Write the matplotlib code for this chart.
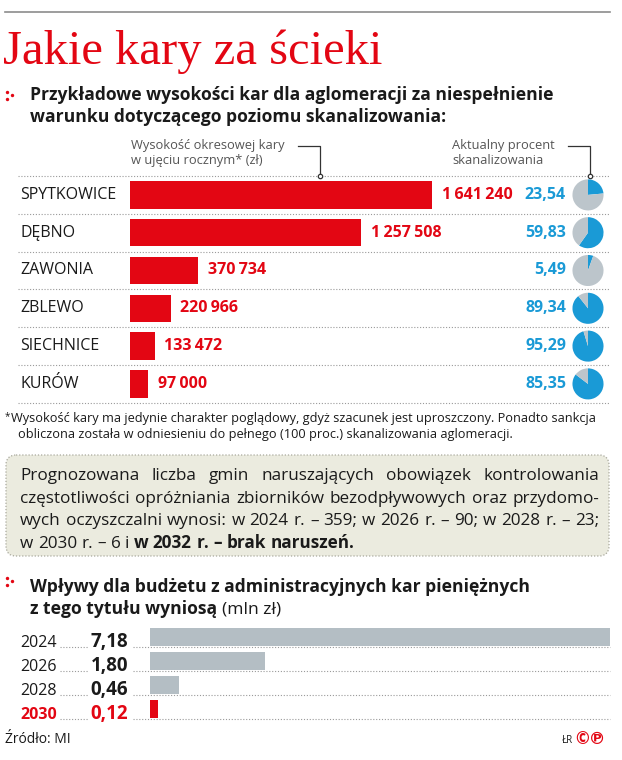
import numpy as np
import matplotlib
matplotlib.use("Agg")
import matplotlib.pyplot as plt
from matplotlib.patches import FancyBboxPatch

# data
cities = ["SPYTKOWICE", "DĘBNO", "ZAWONIA", "ZBLEWO", "SIECHNICE", "KURÓW"]
kary = [1641240, 1257508, 370734, 220966, 133472, 97000]
procent = [23.54, 59.83, 5.49, 89.34, 95.29, 85.35]

lata = ["2024", "2026", "2028", "2030"]
wplywy = [7.18, 1.80, 0.46, 0.12]

RED = "#e30613"
BLUE = "#1a9ad6"
GREY = "#b4bec4"
PIEGREY = "#bcc5cb"
DARK = "#1a1a1a"
SANS = ["Open Sans", "DejaVu Sans"]
W, H = 622, 760

plt.rcParams["font.family"] = SANS
fig = plt.figure(figsize=(W / 100, H / 100), dpi=100)
cv = fig.add_axes([0, 0, 1, 1])
cv.set_xlim(0, W)
cv.set_ylim(H, 0)
cv.axis("off")
renderer = fig.canvas.get_renderer()


def fax(x0, y0, x1, y1):
    # axes from pixel box (top-left origin)
    return fig.add_axes([x0 / W, 1 - y1 / H, (x1 - x0) / W, (y1 - y0) / H])


def dots(y, x0=18, x1=610):
    cv.plot([x0, x1], [y, y], color="#9a9a9a", lw=0.8, ls=(0, (1, 1.6)))


def marker(x, y):
    cv.scatter([x, x, x + 5], [y - 3.5, y + 3.5, y], s=6, color=RED, zorder=5, lw=0)


# header
cv.plot([5, 610], [12, 12], color="#8c8c8c", lw=1.2)
cv.text(3, 64, "Jakie kary za ścieki", color=RED, fontsize=35,
        family=["Liberation Serif", "DejaVu Serif"], va="baseline")

HS = 12.6
marker(7, 95)
cv.text(30, 100, "Przykładowe wysokości kar dla aglomeracji za niespełnienie",
        fontsize=HS, weight="bold", color=DARK, va="baseline")
cv.text(30, 122, "warunku dotyczącego poziomu skanalizowania:",
        fontsize=HS, weight="bold", color=DARK, va="baseline")

cv.text(131, 149, "Wysokość okresowej kary", fontsize=9.3, color="#555555", va="baseline")
cv.text(131, 164, "w ujęciu rocznym* (zł)", fontsize=9.3, color="#555555", va="baseline")
cv.plot([298, 320, 320], [146, 146, 176], color="#333333", lw=0.9)
cv.scatter([320], [176], s=10, facecolor="white", edgecolor="#333333", lw=0.9, zorder=6)

cv.text(452, 149, "Aktualny procent", fontsize=9.3, color="#555555", va="baseline")
cv.text(452, 164, "skanalizowania", fontsize=9.3, color="#555555", va="baseline")
cv.plot([568, 590, 590], [146, 146, 176], color="#333333", lw=0.9)
cv.scatter([590], [176], s=10, facecolor="white", edgecolor="#333333", lw=0.9, zorder=6)

# top bar chart
row_h = 37.8
top = 176
n = len(cities)
for i in range(n + 1):
    dots(top + i * row_h)

bx = fax(130, top, 432, top + n * row_h)
y = np.arange(n)
bx.barh(y, kary, height=0.72, color=RED)
bx.set_xlim(0, max(kary))
bx.set_ylim(n - 0.5, -0.5)
bx.axis("off")
for i, (c, k, p) in enumerate(zip(cities, kary, procent)):
    bx.annotate(f"{k:,}".replace(",", "\u2009"), (k, i), xytext=(7, 0),
                textcoords="offset points", va="center", ha="left",
                color=RED, fontsize=11.5, weight="bold", annotation_clip=False)
    yc = top + (i + 0.5) * row_h
    cv.text(20, yc, c, fontsize=11.5, color=DARK, va="center")
    cv.text(566, yc, f"{p:.2f}".replace(".", ","), fontsize=11.5, weight="bold",
            color=BLUE, va="center", ha="right")
    pa = fax(572, yc - 16, 604, yc + 16)
    pa.pie([p, 100 - p], colors=[BLUE, PIEGREY], startangle=90, counterclock=False,
           radius=1.0, wedgeprops=dict(linewidth=0))
    pa.set_xlim(-1.03, 1.03)
    pa.set_ylim(-1.03, 1.03)
    pa.set_aspect("equal")

# footnote
cv.text(5, 419, "*", fontsize=7, color=DARK, va="baseline")
cv.text(11, 422, "Wysokość kary ma jedynie charakter poglądowy, gdyż szacunek jest uproszczony. Ponadto sankcja",
        fontsize=9.2, color=DARK, va="baseline")
cv.text(18, 438, "obliczona została w odniesieniu do pełnego (100 proc.) skanalizowania aglomeracji.",
        fontsize=9.2, color=DARK, va="baseline")

# box
box = FancyBboxPatch((6, 455), 603, 101, boxstyle="round,pad=0,rounding_size=10",
                     facecolor="#ebebdf", edgecolor="#a8a89c", lw=0.9, ls=(0, (1, 1.5)))
cv.add_patch(box)

box_lines = [
    [("Prognozowana liczba gmin naruszających obowiązek kontrolowania", "normal")],
    [("częstotliwości opróżniania zbiorników bezodpływowych oraz przydomo-", "normal")],
    [("wych oczyszczalni wynosi: w 2024 r. – 359; w 2026 r. – 90; w 2028 r. – 23;", "normal")],
    [("w 2030 r. – 6 i ", "normal"), ("w 2032 r. – brak naruszeń.", "bold")],
]
BS = 12.3
probe1 = cv.text(0, 0, "a a", fontsize=BS)
probe2 = cv.text(0, 0, "aa", fontsize=BS)
space = probe1.get_window_extent(renderer).width - probe2.get_window_extent(renderer).width
probe1.remove()
probe2.remove()
bx0, bx1 = 20, 599
for li, parts in enumerate(box_lines):
    yb = 480 + li * 22.7
    words = []
    for txt, wt in parts:
        for w in txt.split(" "):
            if w:
                words.append((w, wt))
    tmp = [cv.text(0, yb, w, fontsize=BS, weight=wt, color=DARK, va="baseline")
           for w, wt in words]
    widths = [t.get_window_extent(renderer).width for t in tmp]
    if li < len(box_lines) - 1:
        gap = (bx1 - bx0 - sum(widths)) / (len(words) - 1)
    else:
        gap = space
    x = bx0
    for t, wd in zip(tmp, widths):
        t.set_x(x)
        x += wd + gap

# second section
marker(7, 581)
cv.text(30, 592, "Wpływy dla budżetu z administracyjnych kar pieniężnych",
        fontsize=HS, weight="bold", color=DARK, va="baseline")
t1 = cv.text(30, 614, "z tego tytułu wyniosą", fontsize=HS, weight="bold",
             color=DARK, va="baseline")
w1 = t1.get_window_extent(renderer).width + space * HS / BS
cv.text(30 + w1, 614, "(mln zł)", fontsize=HS, color=DARK, va="baseline")

row2 = 24
top2 = 625
m = len(lata)
ax2 = fax(150, top2, 610, top2 + m * row2)
cols = [GREY] * (m - 1) + [RED]
ax2.barh(np.arange(m), wplywy, height=0.72, color=cols)
ax2.set_xlim(0, max(wplywy))
ax2.set_ylim(m - 0.5, -0.5)
ax2.axis("off")
for i, (yr, v) in enumerate(zip(lata, wplywy)):
    yb = top2 + (i + 1) * row2 - 2
    c = RED if i == m - 1 else DARK
    cv.text(20, yb, yr, fontsize=11.5, color=c, va="baseline",
            weight="bold" if i == m - 1 else "normal")
    cv.text(128, yb, f"{v:.2f}".replace(".", ","), fontsize=13.5, weight="bold",
            color=c, va="baseline", ha="right")
    dots(yb, 60, 88)
    dots(yb, 133, 610)

cv.text(5, 743, "Źródło: MI", fontsize=10, color=DARK, va="baseline")
cv.text(562, 743, "ŁR", fontsize=7, color=DARK, va="baseline")
cv.text(575, 744, "©℗", fontsize=12, color=RED, va="baseline", weight="bold")

fig.savefig("out.png", dpi=100)
